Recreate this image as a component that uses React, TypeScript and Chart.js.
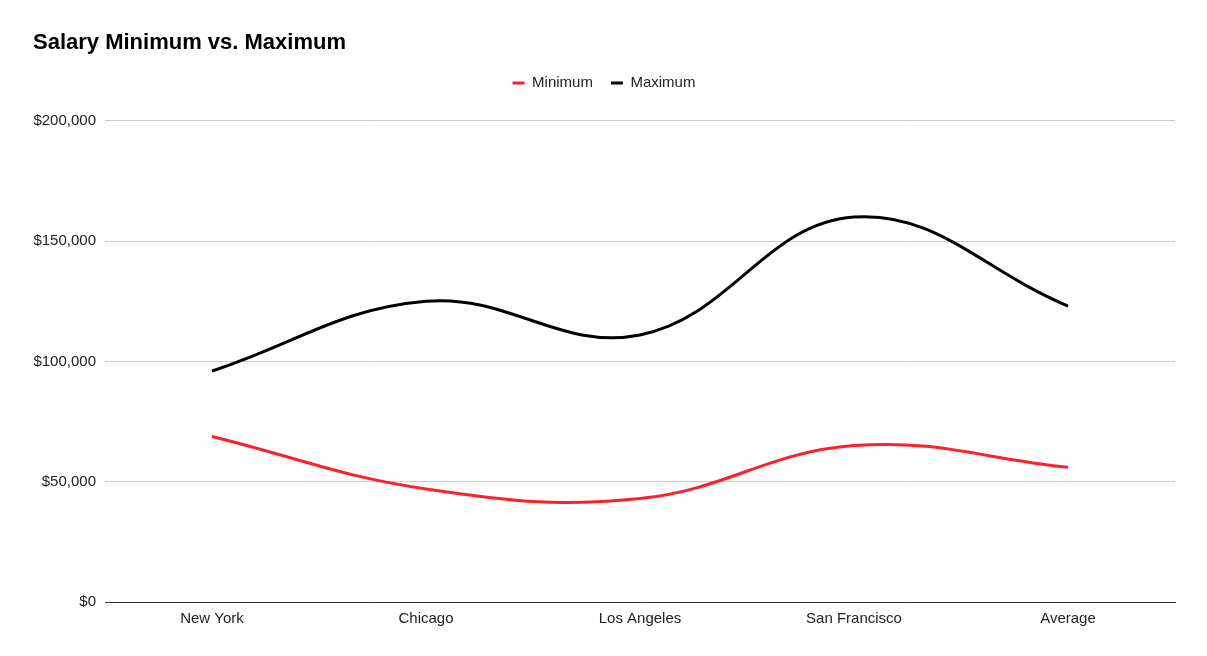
import React, { useEffect, useRef } from "react";
import { Chart, registerables } from "chart.js";

Chart.register(...registerables);

const categories = ["New York", "Chicago", "Los Angeles", "San Francisco", "Average"];
const minimumValues = [68800, 47000, 43000, 65000, 56000];
const maximumValues = [96000, 125000, 111000, 160000, 123000];
const yTicks = [0, 50000, 100000, 150000, 200000];

const FONT = "'Liberation Sans', Arial, Helvetica, sans-serif";

export default function App() {
  const ref = useRef<HTMLCanvasElement | null>(null);
  useEffect(() => {
    document.body.style.margin = "0";
    const ctx = ref.current!;
    const chart = new Chart(ctx, {
      type: "line",
      data: {
        labels: categories,
        datasets: [
          {
            label: "Minimum",
            data: minimumValues,
            borderColor: "#ff1f2a",
            backgroundColor: "#ff1f2a",
            borderWidth: 3,
            pointRadius: 0,
            pointHoverRadius: 0,
            tension: 0.4,
            fill: false,
          },
          {
            label: "Maximum",
            data: maximumValues,
            borderColor: "#000000",
            backgroundColor: "#000000",
            borderWidth: 3,
            pointRadius: 0,
            pointHoverRadius: 0,
            tension: 0.4,
            fill: false,
          },
        ],
      },
      options: {
        animation: false,
        responsive: false,
        maintainAspectRatio: false,
        layout: { padding: { left: 33, right: 32, top: 0, bottom: 0 } },
        plugins: {
          tooltip: { enabled: false },
          title: {
            display: true,
            text: "Salary Minimum vs. Maximum",
            align: "start",
            color: "#000",
            font: { family: FONT, size: 22, weight: "bold" },
            padding: { top: 30, bottom: 1 },
          },
          legend: {
            display: true,
            position: "top",
            align: "center",
            weight: 1600,
            labels: {
              usePointStyle: true,
              pointStyle: "line",
              pointStyleWidth: 12,
              boxHeight: 12,
              color: "#222",
              font: { family: FONT, size: 15 },
              padding: 18,
            },
          } as any,
          subtitle: {
            display: true,
            text: " ",
            font: { family: FONT, size: 2 },
            padding: { top: 0, bottom: 18 },
          },
        },
        scales: {
          x: {
            type: "category",
            offset: true,
            grid: { display: false, drawTicks: false },
            border: { display: true, color: "#333", width: 1 },
            ticks: {
              color: "#222",
              font: { family: FONT, size: 15 },
              padding: 8,
              maxRotation: 0,
            },
            afterFit: (scale: any) => {
              scale.height = 54;
            },
          },
          y: {
            min: 0,
            max: 200000,
            afterBuildTicks: (scale: any) => {
              scale.ticks = yTicks.map((v) => ({ value: v }));
            },
            grid: { color: "#cccccc", lineWidth: 1, drawTicks: false },
            border: { display: false },
            ticks: {
              color: "#222",
              font: { family: FONT, size: 15 },
              padding: 9,
              callback: (v: any) => "$" + Number(v).toLocaleString("en-US"),
            },
            afterFit: (scale: any) => {
              scale.width = 72;
            },
          },
        },
      },
    });
    return () => chart.destroy();
  }, []);
  return (
    <div style={{ width: 1207, height: 656, position: "relative" }}>
      <canvas ref={ref} width={1207} height={656} style={{ display: "block" }} />
    </div>
  );
}
